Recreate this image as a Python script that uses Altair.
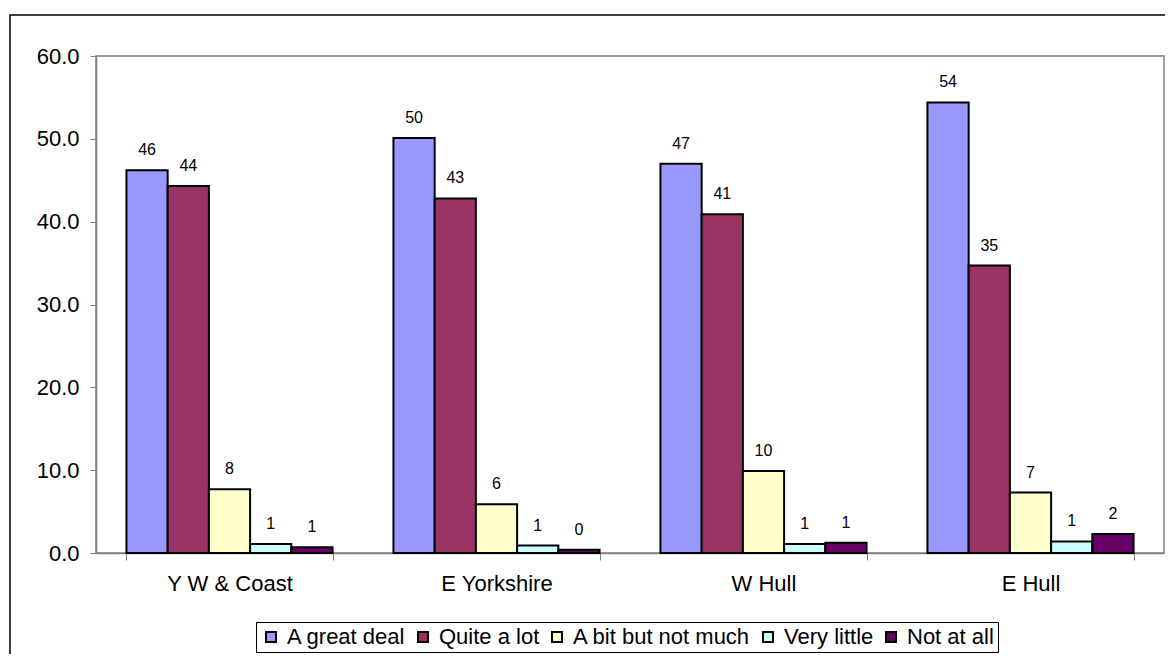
import altair as alt
import pandas as pd

categories = ["Y W & Coast", "E Yorkshire", "W Hull", "E Hull"]
series = ["A great deal", "Quite a lot", "A bit but not much", "Very little", "Not at all"]
great_deal = [46.2, 50.1, 47.0, 54.4]
quite_a_lot = [44.3, 42.8, 40.9, 34.7]
a_bit = [7.7, 5.9, 9.9, 7.3]
very_little = [1.1, 0.9, 1.1, 1.4]
not_at_all = [0.7, 0.4, 1.25, 2.3]
colors = ["#9999FF", "#993366", "#FFFFCC", "#CCFFFF", "#660066"]
y_ticks = [0, 10, 20, 30, 40, 50, 60]

FONT = "Liberation Sans, Arial, sans-serif"

rows = []
for s, vals in zip(series, [great_deal, quite_a_lot, a_bit, very_little, not_at_all]):
    for c, v in zip(categories, vals):
        rows.append({"category": c, "series": s, "value": v})
df = pd.DataFrame(rows)

x_enc = alt.X(
    "category:N",
    sort=categories,
    scale=alt.Scale(paddingInner=0.228, paddingOuter=0.114),
    axis=alt.Axis(title=None, labelAngle=0, tickBand="extent", tickSize=7,
                  labelPadding=13),
)
xoff = alt.XOffset("series:N", sort=series, scale=alt.Scale(paddingInner=0, paddingOuter=0))
y_enc = alt.Y(
    "value:Q",
    scale=alt.Scale(domain=[0, 60], nice=False),
    axis=alt.Axis(title=None, values=y_ticks, format=".1f", tickSize=6,
                  labelPadding=11, grid=False),
)

bars = alt.Chart(df).mark_bar(stroke="black", strokeWidth=2).encode(
    x=x_enc,
    xOffset=xoff,
    y=y_enc,
    stroke=alt.value("black"),
    color=alt.Color(
        "series:N",
        sort=series,
        scale=alt.Scale(domain=series, range=colors),
        legend=alt.Legend(
            title=None, orient="none", legendX=160, legendY=566,
            direction="horizontal", strokeColor="black", padding=4,
            symbolType="square", symbolSize=100, symbolStrokeColor="black",
            symbolStrokeWidth=2, labelFontSize=22, labelFont=FONT,
            labelOffset=5, columnPadding=6, labelLimit=400,
            labelColor="black",
        ),
    ),
)

labels = alt.Chart(df).mark_text(
    baseline="alphabetic", dy=-15, fontSize=16, font=FONT, color="black"
).encode(
    x=x_enc,
    xOffset=xoff,
    y=y_enc,
    text=alt.Text("value:Q", format=".0f"),
)

frame = alt.Chart(pd.DataFrame({"a": [0]})).mark_rect(
    fillOpacity=0, stroke="black", strokeWidth=1.5
).encode(
    x=alt.value(-86), x2=alt.value(1300), y=alt.value(-41), y2=alt.value(800)
)

chart = alt.layer(frame, bars, labels).properties(
    width=1068,
    height=497,
    autosize=alt.AutoSizeParams(type="none"),
    padding={"left": 88, "top": 48, "right": 1, "bottom": 101},
).configure_view(
    stroke="#808080", strokeWidth=1.5
).configure_axis(
    labelFont=FONT, labelFontSize=22, labelColor="black",
    domainColor="#808080", domainWidth=1.5, tickColor="#808080", tickWidth=1,
).configure_legend(
    symbolStrokeColor="black", symbolStrokeWidth=2
)

chart.save("out.html", embed_options={"renderer": "svg", "actions": False})
